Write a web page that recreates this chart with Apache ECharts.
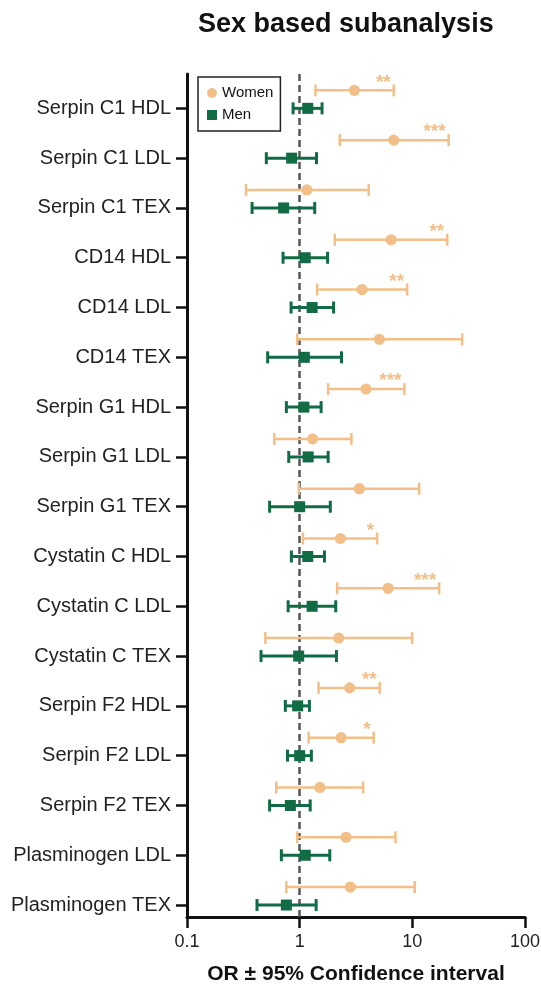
<!DOCTYPE html>
<html>
<head>
<meta charset="utf-8">
<script src="https://cdn.jsdelivr.net/npm/echarts@6/dist/echarts.min.js"></script>
<style>
  html, body { margin: 0; padding: 0; background: #fff; }
</style>
</head>
<body>
<div id="forest" style="width: 541px;height:986px;"></div>

<script>

// categories, top to bottom
var categories = ['Serpin C1 HDL', 'Serpin C1 LDL', 'Serpin C1 TEX', 'CD14 HDL', 'CD14 LDL', 'CD14 TEX',
	'Serpin G1 HDL', 'Serpin G1 LDL', 'Serpin G1 TEX', 'Cystatin C HDL', 'Cystatin C LDL', 'Cystatin C TEX',
	'Serpin F2 HDL', 'Serpin F2 LDL', 'Serpin F2 TEX', 'Plasminogen LDL', 'Plasminogen TEX'];

// women: odds ratio and 95% CI
var womenOR   = [3.06, 6.84, 1.16, 6.48, 3.58, 5.1, 3.89, 1.30, 3.39, 2.30, 6.10, 2.22, 2.78, 2.33, 1.51, 2.58, 2.82];
var womenLow  = [1.38, 2.27, 0.334, 2.05, 1.43, 0.95, 1.79, 0.596, 0.98, 1.07, 2.15, 0.496, 1.47, 1.20, 0.62, 0.95, 0.762];
var womenHigh = [6.84, 21.0, 4.10, 20.4, 8.99, 27.7, 8.51, 2.88, 11.5, 4.87, 17.3, 9.96, 5.13, 4.54, 3.66, 7.08, 10.5];
var womenSig  = ['**', '***', '', '**', '**', '', '***', '', '', '*', '***', '', '**', '*', '', '', ''];

// men: odds ratio and 95% CI
var menOR   = [1.18, 0.849, 0.721, 1.12, 1.29, 1.10, 1.09, 1.19, 1.0, 1.18, 1.29, 0.98, 0.96, 1.0, 0.827, 1.12, 0.762];
var menLow  = [0.874, 0.506, 0.378, 0.712, 0.839, 0.52, 0.762, 0.80, 0.541, 0.844, 0.79, 0.454, 0.746, 0.78, 0.541, 0.688, 0.418];
var menHigh = [1.58, 1.41, 1.36, 1.77, 2.0, 2.35, 1.55, 1.79, 1.87, 1.66, 2.09, 2.12, 1.22, 1.27, 1.24, 1.85, 1.40];

var xTicks = [0.1, 1, 10, 100];

var ORANGE = '#F3BF88';
var GREEN = '#116B44';
var FONT = '"Liberation Sans", Arial, Helvetica, sans-serif';

function rows(or, low, high) {
	return categories.map(function (c, i) {
		return [i, or[i], low[i], high[i]];
	});
}

// draws one error bar + marker; dy shifts the row in pixels
function makeRender(dy, color, lineW, shape, sig) {
	return function (params, api) {
		var i = api.value(0);
		var p = api.coord([api.value(1), i]);
		var pl = api.coord([api.value(2), i]);
		var ph = api.coord([api.value(3), i]);
		var y = p[1] + dy;
		var cap = 6;
		var kids = [
			{ type: 'line', shape: { x1: pl[0], y1: y, x2: ph[0], y2: y }, style: { stroke: color, lineWidth: lineW } },
			{ type: 'line', shape: { x1: pl[0], y1: y - cap, x2: pl[0], y2: y + cap }, style: { stroke: color, lineWidth: lineW } },
			{ type: 'line', shape: { x1: ph[0], y1: y - cap, x2: ph[0], y2: y + cap }, style: { stroke: color, lineWidth: lineW } }
		];
		if (shape === 'circle') {
			kids.push({ type: 'circle', shape: { cx: p[0], cy: y, r: 5.6 }, style: { fill: color } });
		} else {
			kids.push({ type: 'rect', shape: { x: p[0] - 5.5, y: y - 5.5, width: 11, height: 11 }, style: { fill: color } });
		}
		if (sig && sig[params.dataIndex]) {
			kids.push({
				type: 'text', x: ph[0] - 3, y: y - 8,
				style: { text: sig[params.dataIndex], fill: color, font: 'bold 19px ' + FONT, align: 'right', verticalAlign: 'middle' }
			});
		}
		return { type: 'group', children: kids };
	};
}

var chart = echarts.init(document.getElementById('forest'));

chart.setOption({
	animation: false,
	title: {
		text: 'Sex based subanalysis',
		left: 193,
		top: 6,
		textStyle: { fontFamily: FONT, fontSize: 27, fontWeight: 'bold', color: '#111' }
	},
	legend: {
		left: 198,
		top: 77,
		orient: 'vertical',
		backgroundColor: '#fff',
		borderColor: '#222',
		borderWidth: 1.5,
		borderRadius: 0,
		padding: [8, 7, 8, 9],
		itemWidth: 10,
		itemHeight: 10,
		itemGap: 6,
		textStyle: { fontFamily: FONT, fontSize: 15, color: '#111', lineHeight: 16 },
		data: [{ name: 'Women', icon: 'circle' }, { name: 'Men', icon: 'rect' }]
	},
	grid: { left: 187, right: 16, top: 74, bottom: 69, outerBoundsMode: 'none', containLabel: false },
	xAxis: {
		type: 'log',
		logBase: 10,
		min: 0.1,
		max: 100,
		position: 'bottom',
		name: 'OR ± 95% Confidence interval',
		nameLocation: 'middle',
		nameGap: 47,
		nameTextStyle: { fontFamily: FONT, fontSize: 21, fontWeight: 'bold', color: '#111' },
		axisLine: { onZero: false, lineStyle: { color: '#111', width: 3 } },
		axisTick: { length: 11, lineStyle: { color: '#111', width: 2.5 } },
		minorTick: { show: false },
		splitLine: { show: false },
		axisLabel: {
			fontFamily: FONT, fontSize: 18, color: '#222', margin: 16,
			showMinLabel: true, showMaxLabel: true,
			customValues: xTicks,
			formatter: function (v) { return String(+v.toPrecision(3)); }
		}
	},
	yAxis: {
		type: 'value',
		inverse: true,
		min: -0.69,
		max: 16.24,
		position: 'left',
		axisLine: { show: true, onZero: false, lineStyle: { color: '#111', width: 3 } },
		axisTick: { show: true, length: 11, lineStyle: { color: '#111', width: 2.5 }, customValues: categories.map(function (c, i) { return i; }) },
		splitLine: { show: false },
		axisLabel: {
			fontFamily: FONT, fontSize: 20, color: '#222', margin: 16,
			customValues: categories.map(function (c, i) { return i; }),
			formatter: function (v) { return categories[Math.round(v)]; }
		}
	},
	series: [
		{
			name: 'ref',
			type: 'line',
			data: [],
			silent: true,
			markLine: {
				silent: true,
				symbol: 'none',
				z: 1,
				label: { show: false },
				lineStyle: { color: '#555', width: 2.5, type: [7, 4] },
				data: [{ xAxis: 1 }]
			}
		},
		{
			name: 'Women',
			type: 'custom',
			z: 3,
			itemStyle: { color: ORANGE },
			encode: { x: [1, 2, 3], y: 0 },
			data: rows(womenOR, womenLow, womenHigh),
			renderItem: makeRender(-18, ORANGE, 2.5, 'circle', womenSig)
		},
		{
			name: 'Men',
			type: 'custom',
			z: 3,
			itemStyle: { color: GREEN },
			encode: { x: [1, 2, 3], y: 0 },
			data: rows(menOR, menLow, menHigh),
			renderItem: makeRender(0, GREEN, 3, 'rect', null)
		}
	]
});

</script>
</body>
</html>
